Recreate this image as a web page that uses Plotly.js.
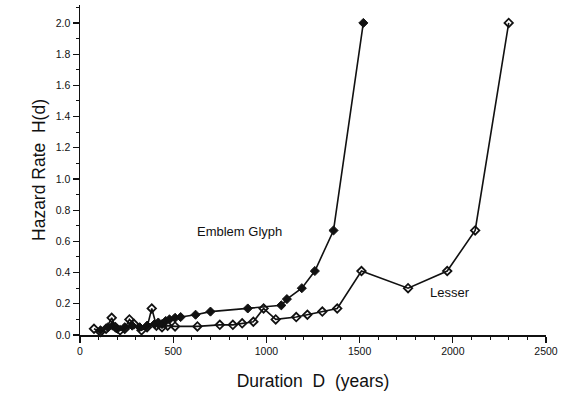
<!DOCTYPE html>
<html>
<head>
<meta charset="utf-8">
<script src="https://cdn.plot.ly/plotly-3.0.1.min.js"></script>
<style>
  html, body { margin: 0; padding: 0; background: #fff; }
  #chart { width: 563px; height: 394px; }
</style>
</head>
<body>
<div id="chart"></div>
<script>
// Hazard rate by duration for two series
const emblemDuration = [110, 150, 175, 200, 240, 280, 320, 360, 400, 420, 440, 460, 480, 510, 540, 620, 700, 900, 1080, 1110, 1190, 1260, 1360, 1520];
const emblemHazard   = [0.03, 0.05, 0.06, 0.04, 0.05, 0.06, 0.05, 0.06, 0.07, 0.08, 0.07, 0.09, 0.10, 0.11, 0.115, 0.13, 0.15, 0.17, 0.19, 0.23, 0.30, 0.41, 0.67, 2.0];

const lesserDuration = [75, 110, 140, 170, 190, 215, 240, 265, 290, 330, 360, 385, 410, 440, 470, 510, 630, 750, 820, 870, 930, 985, 1050, 1160, 1220, 1300, 1380, 1510, 1760, 1970, 2120, 2300];
const lesserHazard   = [0.04, 0.02, 0.04, 0.11, 0.05, 0.03, 0.04, 0.10, 0.07, 0.03, 0.05, 0.17, 0.06, 0.05, 0.06, 0.055, 0.055, 0.065, 0.065, 0.075, 0.085, 0.17, 0.10, 0.115, 0.13, 0.15, 0.17, 0.41, 0.30, 0.41, 0.67, 2.0];

const seriesLabels = ["Emblem Glyph", "Lesser"];
const xTicks = [0, 500, 1000, 1500, 2000, 2500];
const yTicks = [0.0, 0.2, 0.4, 0.6, 0.8, 1.0, 1.2, 1.4, 1.6, 1.8, 2.0];

const font = "Liberation Sans, Arial, Helvetica, sans-serif";

const traces = [
  {
    x: emblemDuration, y: emblemHazard, name: seriesLabels[0],
    mode: "lines+markers", type: "scatter", cliponaxis: false,
    line: { color: "#111", width: 1.6 },
    marker: { symbol: "diamond", size: 7, color: "#111", line: { color: "#111", width: 1 } }
  },
  {
    x: lesserDuration, y: lesserHazard, name: seriesLabels[1],
    mode: "lines+markers", type: "scatter", cliponaxis: false,
    line: { color: "#111", width: 1.6 },
    marker: { symbol: "diamond-open", size: 6.5, color: "#111", line: { color: "#111", width: 1.8 } }
  }
];

const layout = {
  width: 563, height: 394,
  margin: { l: 80, r: 17, t: 5, b: 59 },
  paper_bgcolor: "#fff", plot_bgcolor: "#fff",
  showlegend: false,
  font: { family: font, color: "#111", size: 10 },
  xaxis: {
    range: [0, 2500], tickvals: xTicks, ticktext: xTicks.map(String),
    showgrid: false, zeroline: false, showline: true, linecolor: "#111", linewidth: 1.5,
    ticks: "outside", ticklen: 6, tickwidth: 1.3, tickcolor: "#111",
    minor: { dtick: 100, ticks: "outside", ticklen: 3, tickwidth: 1, tickcolor: "#111", showgrid: false },
    tickfont: { size: 10.5, family: font },
    title: { text: "Duration  D  (years)", font: { size: 17.5, family: font }, standoff: 18 }
  },
  yaxis: {
    range: [0, 2.115], tickvals: yTicks, ticktext: yTicks.map(v => v.toFixed(1)),
    showgrid: false, zeroline: false, showline: true, linecolor: "#111", linewidth: 1.5,
    ticks: "outside", ticklen: 6, tickwidth: 1.3, tickcolor: "#111",
    minor: { dtick: 0.1, ticks: "outside", ticklen: 3, tickwidth: 1, tickcolor: "#111", showgrid: false },
    tickfont: { size: 10.5, family: font },
    title: { text: "Hazard Rate  H(d)", font: { size: 17.5, family: font }, standoff: 5 }
  },
  annotations: [
    { x: 855, y: 0.665, xref: "x", yref: "y", text: seriesLabels[0], showarrow: false,
      font: { size: 13, family: font, color: "#111" } },
    { x: 1985, y: 0.27, xref: "x", yref: "y", text: seriesLabels[1], showarrow: false,
      font: { size: 13, family: font, color: "#111" } }
  ]
};

Plotly.newPlot("chart", traces, layout, { displayModeBar: false, staticPlot: true });
</script>
</body>
</html>
